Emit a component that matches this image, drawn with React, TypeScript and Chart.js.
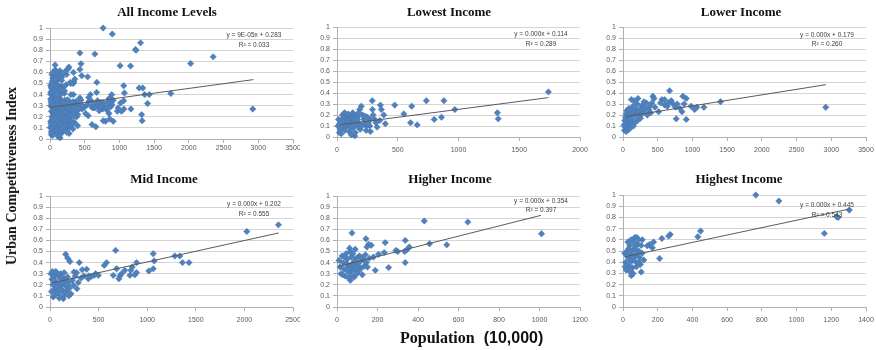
import React, { useEffect, useRef } from "react";
import { Chart, registerables } from "chart.js";
Chart.register(...registerables);

// ---------- DATA ----------
const panelTitles = ["All Income Levels", "Lowest Income", "Lower Income", "Mid Income", "Higher Income", "Highest Income"];
const xMaxes = [3500, 2000, 3500, 2500, 1200, 1400];
const xSteps = [500, 500, 500, 500, 200, 200];
const eqTexts = ["y = 9E-05x + 0.283", "y = 0.000x + 0.114", "y = 0.000x + 0.179", "y = 0.000x + 0.202", "y = 0.000x + 0.354", "y = 0.000x + 0.445"];
const r2Texts = ["R² = 0.033", "R² = 0.289", "R² = 0.260", "R² = 0.555", "R² = 0.397", "R² = 0.543"];

const lowestPoints = [
  [1740,0.41],[1320,0.22],[1327,0.165],[970,0.25],[880,0.33],[860,0.18],[800,0.16],[735,0.33],[660,0.11],[615,0.28],
  [605,0.13],[550,0.21],[475,0.29],[398,0.12],[385,0.2],[357,0.29],[365,0.25],[352,0.15],[330,0.09],[290,0.33],
  [292,0.25],[297,0.2],[275,0.16],[270,0.1],[275,0.05],[242,0.1],[200,0.28],[187,0.25],[146,0.01],[118,0.02],
  [8,0.1],[22,0.12],[19,0.04],[35,0.03],[45,0.2],[30,0.15],[50,0.08],[60,0.12],[70,0.17],[80,0.14],
  [90,0.1],[100,0.19],[110,0.16],[120,0.13],[130,0.08],[140,0.2],[150,0.15],[160,0.11],[170,0.18],[180,0.13],
  [190,0.07],[210,0.2],[220,0.16],[230,0.12],[250,0.18],[260,0.14],[55,0.18],[65,0.06],[75,0.1],[85,0.2],
  [95,0.15],[105,0.12],[115,0.09],[125,0.17],[135,0.14],[145,0.12],[155,0.19],[165,0.16],[175,0.09],[40,0.13],
  [25,0.07],[12,0.16],[205,0.1],[232,0.19],[240,0.06],[255,0.12],[310,0.16],[320,0.13],[130,0.22],[92,0.21],
  [62,0.22],[178,0.22],[150,0.04],[100,0.05]
];
const lowerPoints = [
  [2920,0.27],[1405,0.32],[1165,0.27],[1064,0.27],[1031,0.25],[911,0.35],[911,0.16],[863,0.37],[767,0.165],[757,0.27],
  [850,0.23],[671,0.42],[695,0.33],[720,0.3],[600,0.29],[561,0.34],[638,0.28],[431,0.37],[446,0.35],[417,0.31],
  [336,0.31],[302,0.32],[384,0.28],[216,0.35],[158,0.33],[120,0.34],[264,0.27],[513,0.23],[780,0.3],[880,0.3],
  [980,0.28],[820,0.26],[460,0.27],[540,0.31],[650,0.31],[600,0.34],
  [20,0.06],[30,0.09],[40,0.12],[50,0.07],[60,0.1],[70,0.14],[80,0.11],[90,0.17],[100,0.13],[110,0.09],
  [25,0.15],[35,0.18],[45,0.21],[55,0.24],[65,0.2],[75,0.23],[85,0.26],[95,0.22],[105,0.19],[115,0.25],
  [125,0.16],[135,0.21],[145,0.28],[160,0.22],[175,0.19],[190,0.25],[205,0.3],[220,0.21],[240,0.24],[260,0.2],
  [280,0.29],[300,0.23],[320,0.26],[350,0.2],[370,0.25],[400,0.22],[15,0.11],[48,0.05],[68,0.08],[88,0.07],
  [130,0.12],[150,0.1],[170,0.13],[210,0.15],[250,0.17]
];
const midPoints = [
  [2350,0.74],[2025,0.68],[1430,0.4],[1363,0.4],[1336,0.46],[1284,0.46],[1062,0.48],[1072,0.415],[1062,0.345],[1017,0.325],
  [890,0.4],[890,0.31],[873,0.29],[846,0.36],[832,0.33],[822,0.285],[770,0.33],[736,0.3],[719,0.28],[709,0.255],
  [685,0.345],[675,0.51],[651,0.285],[582,0.4],[558,0.375],[497,0.285],[455,0.285],[428,0.276],[394,0.255],[377,0.34],
  [332,0.336],[301,0.4],[274,0.31],[247,0.315],[205,0.41],[182,0.44],[161,0.475],[277,0.165],[240,0.195],[34,0.09],
  [137,0.075],
  [10,0.3],[20,0.25],[30,0.2],[40,0.15],[50,0.28],[60,0.32],[70,0.22],[80,0.18],[90,0.12],[100,0.26],
  [110,0.3],[120,0.2],[130,0.15],[140,0.1],[150,0.24],[160,0.19],[170,0.14],[180,0.27],[190,0.22],[200,0.17],
  [215,0.12],[25,0.32],[45,0.24],[65,0.18],[85,0.29],[105,0.21],[125,0.27],[145,0.31],[15,0.14],[55,0.11],
  [75,0.13],[95,0.08],[115,0.16],[135,0.23],[155,0.13],[175,0.2],[195,0.1],[230,0.24],[260,0.28],[290,0.22],
  [320,0.26],[350,0.28],[400,0.28],[470,0.3]
];
const higherPoints = [
  [1010,0.66],[646,0.765],[542,0.56],[457,0.57],[431,0.775],[357,0.54],[345,0.516],[337,0.6],[334,0.5],[337,0.4],
  [291,0.51],[233,0.49],[238,0.58],[255,0.355],[189,0.33],[205,0.475],[169,0.556],[156,0.565],[143,0.615],[148,0.54],
  [74,0.667],[66,0.24],[300,0.5],[180,0.45],
  [10,0.42],[15,0.36],[20,0.3],[25,0.46],[30,0.4],[35,0.34],[40,0.28],[45,0.48],[50,0.43],[55,0.37],
  [60,0.31],[65,0.5],[70,0.45],[75,0.39],[80,0.33],[85,0.27],[90,0.52],[95,0.44],[100,0.38],[105,0.32],
  [110,0.46],[115,0.41],[120,0.35],[125,0.29],[130,0.43],[135,0.37],[140,0.47],[145,0.4],[150,0.36],[160,0.44],
  [28,0.29],[38,0.45],[48,0.39],[58,0.26],[68,0.35],[78,0.48],[88,0.42],[98,0.3],[108,0.36],[118,0.45],
  [62,0.53],[50,0.33],[72,0.28],[85,0.38],[94,0.35]
];
const highestPoints = [
  [765,1.0],[898,0.946],[1304,0.866],[1231,0.806],[1240,0.8],[1160,0.657],[447,0.678],[431,0.627],[272,0.648],[263,0.633],
  [224,0.612],[211,0.433],[176,0.58],[169,0.528],[153,0.558],[140,0.546],[111,0.6],[105,0.313],[48,0.28],[52,0.3],
  [10,0.48],[15,0.4],[20,0.34],[25,0.5],[30,0.44],[35,0.37],[40,0.55],[45,0.47],[50,0.41],[55,0.35],
  [60,0.58],[65,0.52],[70,0.46],[75,0.4],[80,0.62],[85,0.56],[90,0.5],[95,0.44],[100,0.38],[105,0.55],
  [110,0.48],[120,0.42],[28,0.58],[38,0.32],[58,0.3],[68,0.62],[78,0.36],[88,0.6],[12,0.36],[22,0.46],
  [32,0.52],[42,0.42],[52,0.5],[62,0.44],[72,0.54],[82,0.48],[92,0.4],[18,0.33],[46,0.6]
];
const allPoints = [...lowestPoints, ...lowerPoints, ...midPoints, ...higherPoints, ...highestPoints];

const trendAll = [[0,0.285],[2930,0.535]];
const trendLowest = [[20,0.11],[1740,0.358]];
const trendLower = [[48,0.187],[2925,0.476]];
const trendMid = [[17,0.216],[2353,0.667]];
const trendHigher = [[8,0.366],[1008,0.826]];
const trendHighest = [[10,0.448],[1304,0.875]];

const panelPoints = [allPoints, lowestPoints, lowerPoints, midPoints, higherPoints, highestPoints];
const panelTrends = [trendAll, trendLowest, trendLower, trendMid, trendHigher, trendHighest];

// ---------- LAYOUT ----------
const layouts = [
  { canvas: [0, 0, 300, 162], plot: [50, 293, 28, 139], title: [167, 13], xPad: 1, eq: [39, 7, 17] },
  { canvas: [300, 0, 588, 162], plot: [337, 580, 27, 137], title: [449, 13], xPad: 5, eq: [39, 7, 17] },
  { canvas: [588, 0, 876, 162], plot: [623, 866, 27, 137], title: [741, 13], xPad: 5, eq: [39, 8, 17] },
  { canvas: [0, 165, 300, 332], plot: [50, 293, 196, 307], title: [164, 180], xPad: 5, eq: [39, 8, 18] },
  { canvas: [300, 165, 588, 332], plot: [337, 580, 196, 307], title: [450, 180], xPad: 5, eq: [39, 5, 14] },
  { canvas: [588, 165, 876, 332], plot: [623, 866, 195, 307], title: [739, 180], xPad: 5, eq: [39, 10, 20] },
];

const SANS = '"Liberation Sans", Arial, sans-serif';
const SERIF = '"Liberation Serif", "Times New Roman", serif';

const textPlugin = {
  id: "panelText",
  afterDatasetsDraw(chart: any, _args: any, opts: any) {
    const { ctx, chartArea } = chart;
    ctx.save();
    ctx.textAlign = "center";
    ctx.textBaseline = "middle";
    ctx.font = `bold 13px ${SERIF}`;
    ctx.fillStyle = "#111";
    ctx.fillText(opts.title, opts.tx, opts.ty);
    ctx.font = `6.5px ${SANS}`;
    ctx.fillStyle = "#404040";
    ctx.fillText(opts.eq, chartArea.right - opts.dx, chartArea.top + opts.dy1);
    ctx.fillText(opts.r2, chartArea.right - opts.dx, chartArea.top + opts.dy2);
    ctx.restore();
  },
};

function Panel({ i }: { i: number }) {
  const ref = useRef<HTMLCanvasElement | null>(null);
  const lay = layouts[i];
  const [cl, ct, cr, cb] = lay.canvas;
  const W = cr - cl;
  const H = cb - ct;
  useEffect(() => {
    const [L, R, T, B] = lay.plot;
    const [tx, ty] = lay.title;
    const yWidth = L - cl;
    const xHeight = cb - B;
    const chart = new Chart(ref.current as HTMLCanvasElement, {
      type: "scatter",
      data: {
        datasets: [
          {
            data: panelTrends[i].map(([x, y]) => ({ x, y })),
            showLine: true,
            pointRadius: 0,
            borderColor: "#5a5a5a",
            borderWidth: 1,
            clip: false,
          } as any,
          {
            data: panelPoints[i].map(([x, y]) => ({ x, y })),
            pointStyle: "rectRot",
            pointRadius: 3.2,
            backgroundColor: "#4f81bd",
            borderColor: "#4677b0",
            borderWidth: 0.5,
            clip: false,
          } as any,
        ],
      },
      options: {
        animation: false,
        responsive: false,
        events: [],
        layout: { padding: { left: 0, right: cr - R, top: T - ct, bottom: 0 } },
        plugins: {
          legend: { display: false },
          tooltip: { enabled: false },
          title: { display: false },
          panelText: {
            title: panelTitles[i],
            tx: tx - cl,
            ty: ty - ct,
            eq: eqTexts[i],
            r2: r2Texts[i],
            dx: lay.eq[0],
            dy1: lay.eq[1],
            dy2: lay.eq[2],
          },
        } as any,
        scales: {
          x: {
            type: "linear",
            min: 0,
            max: xMaxes[i],
            afterFit: (s: any) => {
              s.height = xHeight;
              s.paddingLeft = 0;
              s.paddingRight = 0;
            },
            ticks: {
              stepSize: xSteps[i],
              autoSkip: false,
              maxRotation: 0,
              padding: lay.xPad,
              color: "#595959",
              font: { family: SANS, size: 7 },
              callback: (v: any) => String(v),
            },
            grid: { drawOnChartArea: false, drawTicks: true, tickLength: 4, color: "#b0b0b0" },
            border: { display: true, color: "#b0b0b0" },
          },
          y: {
            min: 0,
            max: 1,
            afterFit: (s: any) => {
              s.width = yWidth;
              s.paddingTop = 0;
              s.paddingBottom = 0;
            },
            ticks: {
              stepSize: 0.1,
              autoSkip: false,
              padding: 3,
              color: "#595959",
              font: { family: SANS, size: 7 },
              callback: (v: any) => String(Math.round(v * 10) / 10),
            },
            grid: { color: "#d4d4d4", tickLength: 4, tickColor: "#b0b0b0" },
            border: { display: true, color: "#b0b0b0" },
          },
        },
      } as any,
      plugins: [textPlugin as any],
    });
    return () => chart.destroy();
  }, [i]);
  return (
    <canvas
      ref={ref}
      width={W}
      height={H}
      style={{ position: "absolute", left: cl, top: ct, width: W, height: H }}
    />
  );
}

export default function App() {
  return (
    <div
      style={{
        position: "absolute",
        left: 0,
        top: 0,
        width: 876,
        height: 350,
        background: "#fff",
        overflow: "hidden",
      }}
    >
      {panelTitles.map((_, i) => (
        <Panel key={i} i={i} />
      ))}
      <div
        style={{
          position: "absolute",
          left: 12,
          top: 176,
          transform: "translate(-50%, -50%) rotate(-90deg)",
          whiteSpace: "nowrap",
          fontFamily: SERIF,
          fontWeight: "bold",
          fontSize: 14,
          color: "#111",
        }}
      >
        Urban Competitiveness Index
      </div>
      <div
        style={{
          position: "absolute",
          left: 400,
          top: 338,
          transform: "translateY(-50%)",
          whiteSpace: "nowrap",
          fontWeight: "bold",
          fontSize: 16,
          color: "#111",
        }}
      >
        <span style={{ fontFamily: SERIF }}>Population</span>
        <span style={{ fontFamily: SANS, marginLeft: 9 }}>(10,000)</span>
      </div>
    </div>
  );
}
